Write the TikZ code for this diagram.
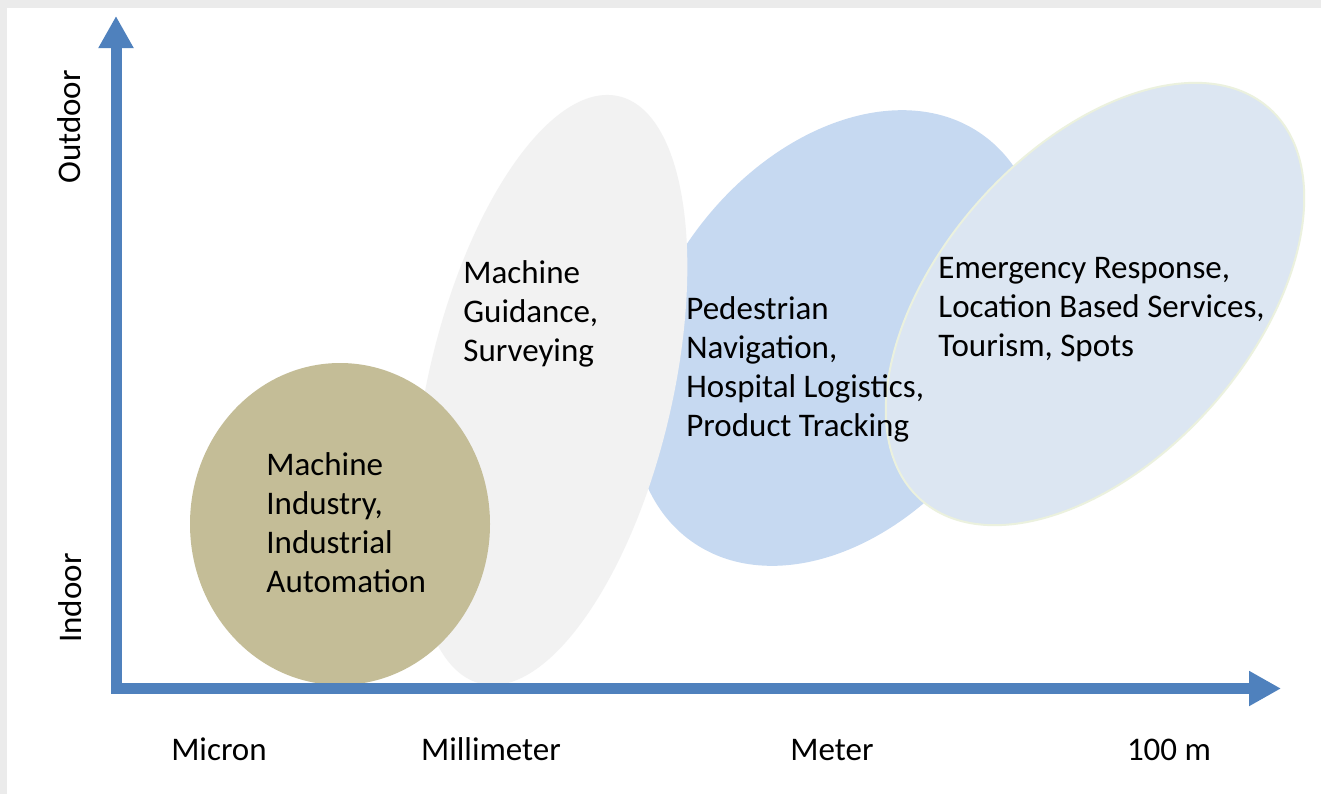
\documentclass[tikz,border=0pt]{standalone}
\usepackage{fontspec}
\setmainfont{Carlito}
\usepackage{tikz}
\usetikzlibrary{arrows.meta,shapes.geometric}

\definecolor{axisblue}{HTML}{4F81BD}
\definecolor{tanfill}{HTML}{C4BD97}
\definecolor{greyfill}{HTML}{F2F2F2}
\definecolor{bluefill}{HTML}{C6D9F1}
\definecolor{palefill}{HTML}{DCE6F2}
\definecolor{paleline}{HTML}{EBF1DE}
\definecolor{framegrey}{HTML}{EBEBEB}

\tikzset{
  blob/.style={ellipse, inner sep=0pt, draw=none},
  appl/.style={anchor=base west, align=left, inner sep=0pt, font=\fontsize{16.5}{19.65}\selectfont},
  scalelbl/.style={anchor=base, inner sep=0pt, font=\fontsize{16.5}{19.65}\selectfont},
}

\begin{document}
\begin{tikzpicture}[x=0.5pt,y=-0.5pt]
          \useasboundingbox (0,0) rectangle (1321,794);
          \fill[white] (0,0) rectangle (1321,794);
          \fill[framegrey] (0,0) rectangle (1321,8);
          \fill[framegrey] (0,0) rectangle (7,794);

          \node[blob, fill=bluefill, minimum width=177pt, minimum height=250pt, rotate=-35.7] (meter) at (837,338) {};
          \node[blob, fill=palefill, draw=paleline, line width=1pt, minimum width=155pt, minimum height=262pt, rotate=-41.7] (hundred) at (1095,304) {};
          \node[blob, fill=greyfill, minimum width=122pt, minimum height=301.7pt, rotate=-13.2] (milli) at (550,390) {};
          \node[blob, fill=tanfill, minimum width=150pt, minimum height=161pt] (micron) at (340,524) {};

          \coordinate (ytip) at (116,16);
          \coordinate (origin) at (116,688.5);
          \coordinate (xtip) at (1281,688.5);
          \draw[axisblue, line width=5.5pt, {Triangle[length=16pt,width=16.5pt]}-{Triangle[length=16pt,width=16.5pt]}] (ytip) -- (origin) -- (xtip);

          \node[appl] (industry) at (266,592.9) {Machine\\Industry,\\Industrial\\Automation};
          \node[appl] (guidance) at (463,361.6) {Machine\\Guidance,\\Surveying};
          \node[appl] (pedestrian) at (686,436.9) {Pedestrian\\Navigation,\\Hospital Logistics,\\Product Tracking};
          \node[appl] (emergency) at (938,356.6) {Emergency Response,\\Location Based Services,\\Tourism, Spots};

          \foreach \x/\t [count=\i] in {219/Micron, 491/Millimeter, 832/Meter, 1169/100 m} {
            \node[scalelbl] (scale\i) at (\x,760) {\t};
          }

          \node[scalelbl, rotate=90] (outdoor) at (80,127) {Outdoor};
          \node[scalelbl, rotate=90] (indoor) at (81,598) {Indoor};
        \end{tikzpicture}
\end{document}
